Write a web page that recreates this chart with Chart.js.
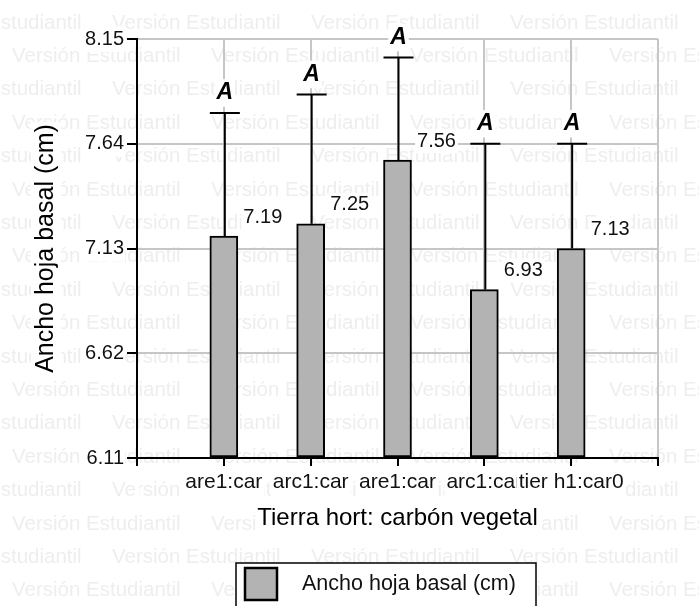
<!DOCTYPE html>
<html>
<head>
<meta charset="utf-8">
<script src="https://cdn.jsdelivr.net/npm/chart.js@4.4.1/dist/chart.umd.min.js"></script>
<style>
  html, body { margin: 0; padding: 0; background: #fff; }
  #wrap { width: 699px; height: 606px; position: relative; }
</style>
</head>
<body>
<div id="wrap"><canvas id="c" width="699" height="606"></canvas></div>
<script>
// Treatments (Tierra hortícola : carbón vegetal)
const categories = ['are1:car', 'arc1:car', 'are1:car', 'arc1:car', 'tier h1:car0'];
// Mean basal leaf width (cm) and upper error per treatment
const means = [7.19, 7.25, 7.56, 6.93, 7.13];
const errors = [0.60, 0.63, 0.50, 0.71, 0.51];
// Significance group letters
const groups = ['A', 'A', 'A', 'A', 'A'];
// Y axis ticks
const yTicks = [6.11, 6.62, 7.13, 7.64, 8.15];

const FONT = '"Liberation Sans", Arial, sans-serif';
const seriesName = 'Ancho hoja basal (cm)';
const xTitle = 'Tierra hort: carbón vegetal';
const yTitle = 'Ancho hoja basal (cm)';

function textBox(ctx, text, x, y, pad) {
  const m = ctx.measureText(text);
  const w = m.width;
  const h = parseFloat(ctx.font.match(/([\d.]+)px/)[1]);
  let left = x;
  if (ctx.textAlign === 'center') left = x - w / 2;
  else if (ctx.textAlign === 'right') left = x - w;
  const fill = ctx.fillStyle;
  ctx.fillStyle = '#fff';
  ctx.fillRect(left - pad, y - h * 0.6, w + pad * 2, h * 1.2);
  ctx.fillStyle = fill;
  ctx.fillText(text, x, y);
}

const watermark = {
  id: 'watermark',
  beforeDraw(chart) {
    const ctx = chart.ctx;
    ctx.save();
    ctx.fillStyle = '#fff';
    ctx.fillRect(0, 0, chart.width, chart.height);
    ctx.font = '20.5px ' + FONT;
    ctx.fillStyle = '#eeeeee';
    ctx.textBaseline = 'middle';
    ctx.textAlign = 'left';
    for (let k = 0; k < 19; k++) {
      const y = 23 + 33.4 * k;
      const off = k % 2 === 0 ? 112 : 12;
      for (let x = off - 199; x < chart.width; x += 199) {
        ctx.fillText('Versión Estudiantil', x, y);
      }
    }
    ctx.restore();
  }
};

const overlay = {
  id: 'overlay',
  afterDatasetsDraw(chart) {
    const ctx = chart.ctx;
    const ys = chart.scales.y;
    const meta = chart.getDatasetMeta(0);
    ctx.save();
    means.forEach((m, i) => {
      const bar = meta.data[i + 1];
      const x = bar.x;
      const top = ys.getPixelForValue(m);
      const cap = ys.getPixelForValue(m + errors[i]);
      const half = bar.width / 2 + 1;
      // upper error bar
      ctx.strokeStyle = '#000';
      ctx.lineWidth = 2;
      ctx.beginPath();
      ctx.moveTo(x + 1, top);
      ctx.lineTo(x + 1, cap);
      ctx.moveTo(x + 1 - half, cap);
      ctx.lineTo(x + 1 + half, cap);
      ctx.stroke();
      // mean value
      ctx.fillStyle = '#111';
      ctx.font = '20px ' + FONT;
      ctx.textAlign = 'center';
      ctx.textBaseline = 'middle';
      textBox(ctx, m.toFixed(2), x + 39, top - 19, 2);
      // group letter
      ctx.font = 'italic bold 23px ' + FONT;
      ctx.fillStyle = '#000';
      textBox(ctx, groups[i], x + 1, cap - 20, 2);
    });
    ctx.restore();
  }
};

const decorations = {
  id: 'decorations',
  afterDraw(chart) {
    const ctx = chart.ctx;
    const area = chart.chartArea;
    ctx.save();
    ctx.fillStyle = '#000';
    ctx.textAlign = 'center';
    ctx.textBaseline = 'middle';
    // x axis title
    ctx.font = '24px ' + FONT;
    textBox(ctx, xTitle, (area.left + area.right) / 2, 518, 2);
    // y axis title
    ctx.save();
    ctx.font = '25px ' + FONT;
    ctx.translate(46, (area.top + area.bottom) / 2);
    ctx.rotate(-Math.PI / 2);
    textBox(ctx, yTitle, 0, 0, 2);
    ctx.restore();
    // legend
    const ds = chart.data.datasets[0];
    ctx.fillStyle = '#fff';
    ctx.fillRect(236, 563, 300, 50);
    ctx.strokeStyle = '#000';
    ctx.lineWidth = 1.5;
    ctx.strokeRect(236, 563, 300, 50);
    ctx.fillStyle = ds.backgroundColor;
    ctx.fillRect(245, 568, 32, 32);
    ctx.lineWidth = 2.5;
    ctx.strokeRect(245, 568, 32, 32);
    ctx.fillStyle = '#111';
    ctx.font = '21.5px ' + FONT;
    ctx.textAlign = 'left';
    ctx.textBaseline = 'alphabetic';
    ctx.fillText(ds.label, 302, 590);
    ctx.restore();
  }
};

new Chart(document.getElementById('c'), {
  type: 'bar',
  data: {
    labels: ['', ...categories, ''],
    datasets: [{
      label: seriesName,
      data: [null, ...means, null],
      backgroundColor: '#b3b3b3',
      borderColor: '#000',
      borderWidth: 2,
      borderSkipped: false,
      barThickness: 28,
      base: yTicks[0]
    }]
  },
  options: {
    responsive: false,
    animation: false,
    layout: { padding: { left: 0, right: 41, top: 39, bottom: 0 } },
    plugins: { legend: { display: false }, tooltip: { enabled: false } },
    scales: {
      x: {
        type: 'category',
        offset: false,
        grid: { offset: false, color: '#c6c6c6', lineWidth: 2, tickColor: '#000', tickWidth: 2, tickLength: 8 },
        border: { color: '#000', width: 2 },
        ticks: {
          autoSkip: false, maxRotation: 0, minRotation: 0,
          color: '#111', font: { size: 21, family: FONT }, padding: 4,
          showLabelBackdrop: true, backdropColor: '#fff', backdropPadding: 2
        },
        afterFit(s) { s.height = 148; }
      },
      y: {
        min: yTicks[0],
        max: yTicks[yTicks.length - 1],
        afterBuildTicks(s) { s.ticks = yTicks.map(v => ({ value: v })); },
        grid: { color: '#c6c6c6', lineWidth: 2, tickColor: '#000', tickWidth: 2, tickLength: 10 },
        border: { color: '#000', width: 2 },
        ticks: {
          callback: v => Number(v).toFixed(2),
          color: '#111', font: { size: 20, family: FONT }, padding: 3,
          showLabelBackdrop: true, backdropColor: '#fff', backdropPadding: 1
        },
        afterFit(s) { s.width = 137; }
      }
    }
  },
  plugins: [watermark, overlay, decorations]
});
</script>
</body>
</html>
